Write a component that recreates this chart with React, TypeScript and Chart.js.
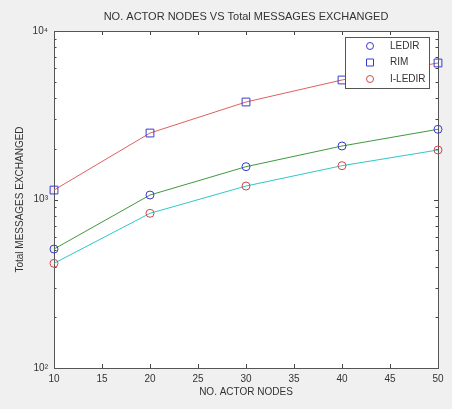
import React, { useEffect, useRef } from 'react';
import { Chart, registerables } from 'chart.js';
Chart.register(...registerables);

const nodes = [10, 20, 30, 40, 50];
const ledir = [508, 1063, 1566, 2077, 2610];
const rim = [1138, 2480, 3790, 5120, 6460];
const iledir = [418, 828, 1202, 1587, 1967];
const xTicks = [10, 15, 20, 25, 30, 35, 40, 45, 50];
const yTicks = [100, 1000, 10000];
const yTickLabels = ['10²', '10³', '10⁴'];
const titleText = 'NO. ACTOR NODES VS Total MESSAGES EXCHANGED';
const xTitle = 'NO. ACTOR NODES';
const yTitle = 'Total MESSAGES EXCHANGED';
const legendLabels = ['LEDIR', 'RIM', 'I-LEDIR'];

const FONT = '"Liberation Sans", Arial, sans-serif';
const TXT = '#333333';
const BLUE = '#3a3ad0';
const RED = '#d04a4a';

const decorPlugin = {
  id: 'decor',
  beforeDraw(chart: any) {
    const { ctx, chartArea: a } = chart;
    ctx.save();
    ctx.fillStyle = '#f0f0f0';
    ctx.fillRect(0, 0, chart.width, chart.height);
    ctx.fillStyle = '#ffffff';
    ctx.fillRect(a.left, a.top, a.right - a.left, a.bottom - a.top);
    ctx.restore();
  },
  beforeDatasetsDraw(chart: any) {
    const { ctx, chartArea: a, scales } = chart;
    const xs = scales.x;
    const ys = scales.y;
    ctx.save();
    ctx.strokeStyle = '#444444';
    ctx.lineWidth = 1;
    ctx.beginPath();
    for (const v of xTicks) {
      const px = Math.round(xs.getPixelForValue(v)) + 0.5;
      ctx.moveTo(px, a.bottom);
      ctx.lineTo(px, a.bottom - 4);
      ctx.moveTo(px, a.top);
      ctx.lineTo(px, a.top + 4);
    }
    for (let d = 100; d < 10000; d *= 10) {
      for (let m = 1; m <= 10; m++) {
        const v = d * m;
        const py = Math.round(ys.getPixelForValue(v)) + 0.5;
        const len = m === 1 || m === 10 ? 4 : 2.5;
        ctx.moveTo(a.left, py);
        ctx.lineTo(a.left + len, py);
        ctx.moveTo(a.right, py);
        ctx.lineTo(a.right - len, py);
      }
    }
    ctx.stroke();
    ctx.strokeStyle = '#555555';
    ctx.strokeRect(Math.round(a.left) + 0.5, Math.round(a.top) + 0.5, Math.round(a.right - a.left), Math.round(a.bottom - a.top));
    ctx.restore();
  },
  afterDraw(chart: any) {
    const { ctx, chartArea: a } = chart;
    ctx.save();
    ctx.fillStyle = TXT;
    ctx.textAlign = 'center';
    ctx.textBaseline = 'middle';
    ctx.font = `11px ${FONT}`;
    ctx.fillText(titleText, (a.left + a.right) / 2, 17);
    ctx.font = `10px ${FONT}`;
    ctx.fillText(xTitle, (a.left + a.right) / 2, 392);
    ctx.save();
    ctx.translate(20, (a.top + a.bottom) / 2);
    ctx.rotate(-Math.PI / 2);
    ctx.fillText(yTitle, 0, 0);
    ctx.restore();

    // legend
    const bx = 345, by = 37, bw = 84, bh = 51;
    ctx.fillStyle = '#ffffff';
    ctx.fillRect(bx, by, bw, bh);
    ctx.strokeStyle = '#555555';
    ctx.lineWidth = 1;
    ctx.strokeRect(bx + 0.5, by + 0.5, bw, bh);
    const rows = [46, 62.5, 79];
    const colors = [BLUE, BLUE, RED];
    ctx.textAlign = 'left';
    ctx.font = `10px ${FONT}`;
    legendLabels.forEach((lab, i) => {
      const y = rows[i];
      ctx.strokeStyle = colors[i];
      ctx.beginPath();
      if (i === 1) {
        ctx.rect(366.5, y - 3.5, 7, 7);
      } else {
        ctx.arc(370, y, 3.5, 0, Math.PI * 2);
      }
      ctx.stroke();
      ctx.fillStyle = TXT;
      ctx.fillText(lab, 390, y);
    });
    ctx.restore();
  },
};

export default function App() {
  const ref = useRef<HTMLCanvasElement | null>(null);
  useEffect(() => {
    if (!ref.current) return;
    const mk = (vals: number[]) => nodes.map((x, i) => ({ x, y: vals[i] }));
    const chart = new Chart(ref.current, {
      type: 'line',
      data: {
        datasets: [
          {
            label: legendLabels[0], data: mk(ledir), borderColor: '#3f9a3f', borderWidth: 1,
            pointStyle: 'circle', pointRadius: 4, pointBorderColor: BLUE, pointBackgroundColor: 'rgba(0,0,0,0)', pointBorderWidth: 1, clip: false, tension: 0,
          },
          {
            label: legendLabels[1], data: mk(rim), borderColor: '#e06060', borderWidth: 1,
            pointStyle: 'rect', pointRadius: 5.5, pointBorderColor: BLUE, pointBackgroundColor: 'rgba(0,0,0,0)', pointBorderWidth: 1, clip: false, tension: 0,
          },
          {
            label: legendLabels[2], data: mk(iledir), borderColor: '#30c8c8', borderWidth: 1,
            pointStyle: 'circle', pointRadius: 4, pointBorderColor: RED, pointBackgroundColor: 'rgba(0,0,0,0)', pointBorderWidth: 1, clip: false, tension: 0,
          },
        ],
      },
      options: {
        animation: false,
        responsive: false,
        maintainAspectRatio: false,
        layout: { padding: { top: 31, right: 14, left: 0, bottom: 0 } },
        plugins: { legend: { display: false }, title: { display: false }, tooltip: { enabled: false } },
        scales: {
          x: {
            type: 'linear', min: 10, max: 50,
            afterBuildTicks: (s: any) => { s.ticks = xTicks.map((v) => ({ value: v })); },
            afterFit: (s: any) => { s.height = 41; },
            grid: { display: false, drawTicks: false },
            border: { display: false },
            ticks: { padding: 5, color: TXT, font: { family: FONT, size: 10 }, maxRotation: 0, autoSkip: false },
          },
          y: {
            type: 'logarithmic', min: 100, max: 10000,
            afterBuildTicks: (s: any) => { s.ticks = yTicks.map((v) => ({ value: v })); },
            afterFit: (s: any) => { s.width = 54; },
            grid: { display: false, drawTicks: false },
            border: { display: false },
            ticks: {
              padding: 6, color: TXT, font: { family: FONT, size: 10 }, autoSkip: false,
              callback: (v: any) => yTickLabels[yTicks.indexOf(Number(v))] ?? '',
            },
          },
        },
      },
      plugins: [decorPlugin],
    });
    return () => chart.destroy();
  }, []);
  return (
    <div style={{ position: 'fixed', left: 0, top: 0, width: 452, height: 409, background: '#f0f0f0' }}>
      <canvas ref={ref} width={452} height={409} style={{ width: 452, height: 409, display: 'block' }} />
    </div>
  );
}
